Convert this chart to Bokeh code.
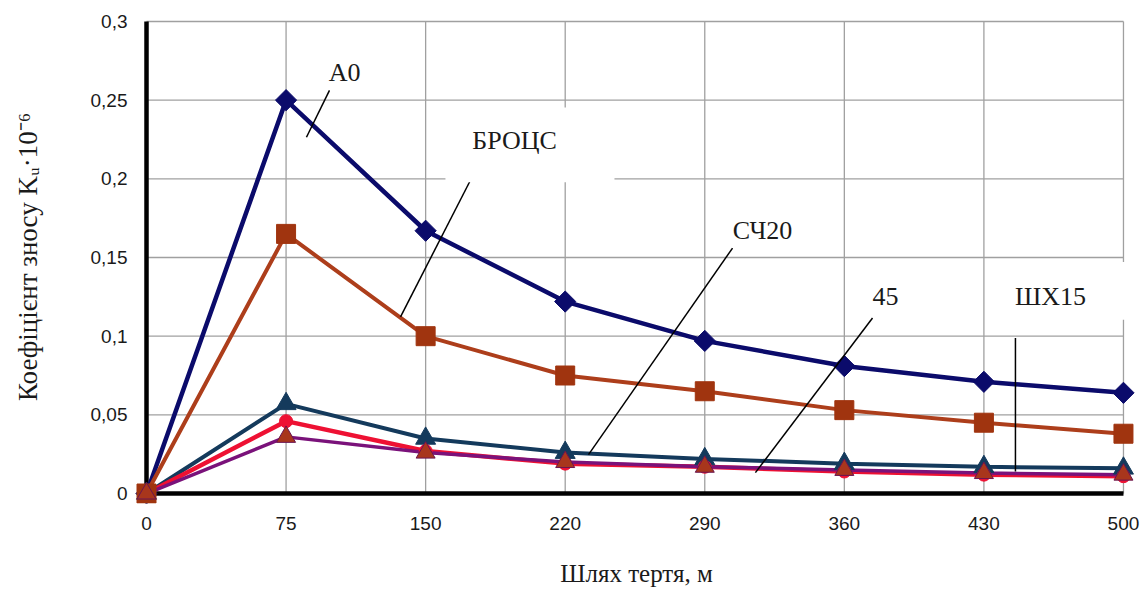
import math
from bokeh.plotting import figure
from bokeh.models import Range1d, FixedTicker, Label, BoxAnnotation
from bokeh.embed import file_html
from bokeh.resources import INLINE

# ---- data ----
X_LABELS = ["0", "75", "150", "220", "290", "360", "430", "500"]
Y_TICKS = [0, 0.05, 0.1, 0.15, 0.2, 0.25, 0.3]
Y_TICK_LABELS = ["0", "0,05", "0,1", "0,15", "0,2", "0,25", "0,3"]

A0 = [0, 0.250, 0.167, 0.122, 0.097, 0.081, 0.071, 0.064]
BROCS = [0, 0.165, 0.100, 0.075, 0.065, 0.053, 0.045, 0.038]
SCH20 = [0, 0.057, 0.035, 0.026, 0.022, 0.019, 0.017, 0.016]
S45 = [0, 0.046, 0.027, 0.019, 0.017, 0.014, 0.012, 0.011]
SHH15 = [0, 0.036, 0.026, 0.020, 0.017, 0.015, 0.013, 0.012]

SERIES_NAMES = ["А0", "БРОЦС", "СЧ20", "45", "ШХ15"]

xs = list(range(len(X_LABELS)))

p = figure(width=1148, height=589,
           x_range=Range1d(-0.129, 7.1507), y_range=Range1d(-0.00634, 0.30698),
           output_backend="svg", toolbar_location=None,
           min_border_left=128, min_border_right=4, min_border_top=10, min_border_bottom=85)
p.outline_line_color = None
p.background_fill_color = "white"
p.grid.visible = False

# grid lines
n = len(Y_TICKS)
p.segment(x0=[xs[0]] * n, y0=Y_TICKS, x1=[xs[-1]] * n, y1=Y_TICKS,
          line_color="#a0a0a0", line_width=1.3, level="underlay")
m = len(xs) - 1
p.segment(x0=xs[1:], y0=[Y_TICKS[0]] * m, x1=xs[1:], y1=[Y_TICKS[-1]] * m,
          line_color="#a0a0a0", line_width=1.3, level="underlay")

# white boxes behind labels
p.add_layout(BoxAnnotation(left=2.142, right=3.353, bottom=0.1979, top=0.2454,
                           fill_color="white", fill_alpha=1, line_color=None, level="glyph"))
p.add_layout(BoxAnnotation(left=6.083, right=7.15, bottom=0.1104, top=0.1471,
                           fill_color="white", fill_alpha=1, line_color=None, level="glyph"))

# axis lines
p.segment(x0=[xs[0]], y0=[Y_TICKS[0]], x1=[xs[0]], y1=[Y_TICKS[-1]], line_color="black", line_width=4.5)
p.segment(x0=[xs[0]], y0=[Y_TICKS[0]], x1=[xs[-1]], y1=[Y_TICKS[0]], line_color="black", line_width=4.5)

# series lines
p.line(xs, A0, line_color="#0B0B6B", line_width=4.5)
p.line(xs, BROCS, line_color="#AD3E1B", line_width=4)
p.line(xs, SCH20, line_color="#143A5C", line_width=4)
p.line(xs, S45, line_color="#EE1133", line_width=4.5)
p.line(xs, SHH15, line_color="#7A127A", line_width=3.5)

# markers
p.scatter(xs, A0, marker="square", angle=math.pi / 4, size=15, fill_color="#0B0B6B", line_color="#0B0B6B")
p.scatter(xs, SCH20, marker="triangle", size=20, fill_color="#143A5C", line_color="#143A5C")
p.scatter(xs, S45, marker="circle", size=13, fill_color="#EE1133", line_color="#EE1133")
p.scatter(xs, BROCS, marker="square", size=19, fill_color="#A0340F", line_color="#A0340F")
p.scatter(xs, SHH15, marker="triangle", size=19, fill_color="#A8361C", line_color="#6A1450", line_width=1)

# axes
p.xaxis.ticker = FixedTicker(ticks=xs)
p.xaxis.major_label_overrides = {x: l for x, l in zip(xs, X_LABELS)}
p.yaxis.ticker = FixedTicker(ticks=Y_TICKS)
p.yaxis.major_label_overrides = {t: l for t, l in zip(Y_TICKS, Y_TICK_LABELS)}
for ax in (p.xaxis[0], p.yaxis[0]):
    ax.axis_line_color = None
    ax.major_tick_line_color = None
    ax.minor_tick_line_color = None
    ax.major_tick_out = 0
    ax.major_tick_in = 0
    ax.minor_tick_out = 0
    ax.minor_tick_in = 0
    ax.major_label_text_font = "Liberation Sans"
    ax.major_label_text_font_size = "19px"
    ax.major_label_text_color = "#1a1a1a"
    ax.axis_label_text_font = "Liberation Serif"
    ax.axis_label_text_font_style = "normal"
    ax.axis_label_text_color = "#1a1a1a"

p.xaxis.major_label_standoff = 13
p.xaxis.axis_label = "Шлях тертя, м"
p.xaxis.axis_label_text_font_size = "25px"
p.xaxis.axis_label_standoff = 27

p.yaxis.major_label_standoff = 1
p.yaxis.axis_label = "Коефіцієнт зносу Kᵤ·10⁻⁶"
p.yaxis.axis_label_text_font_size = "27px"
p.yaxis.axis_label_standoff = 45

# annotations
lbl_font = "Liberation Serif"
labels = [
    (SERIES_NAMES[0], 1.419, 0.2677),
    (SERIES_NAMES[1], 2.637, 0.2245),
    (SERIES_NAMES[2], 4.414, 0.1674),
    (SERIES_NAMES[3], 5.295, 0.1249),
    (SERIES_NAMES[4], 6.477, 0.1249),
]
for t, x, y in labels:
    p.add_layout(Label(x=x, y=y, text=t, text_font=lbl_font, text_font_size="26px",
                       text_align="center", text_baseline="middle", text_color="#1a1a1a"))

leaders_x0 = [1.311, 2.321, 4.199, 5.202, 6.226]
leaders_y0 = [0.2562, 0.1991, 0.1560, 0.1116, 0.0989]
leaders_x1 = [1.146, 1.820, 3.167, 4.363, 6.226]
leaders_y1 = [0.2264, 0.1123, 0.0247, 0.0133, 0.0140]
p.segment(x0=leaders_x0, y0=leaders_y0, x1=leaders_x1, y1=leaders_y1, line_color="black", line_width=1.5)

open("out.html", "w").write(file_html(p, INLINE))
